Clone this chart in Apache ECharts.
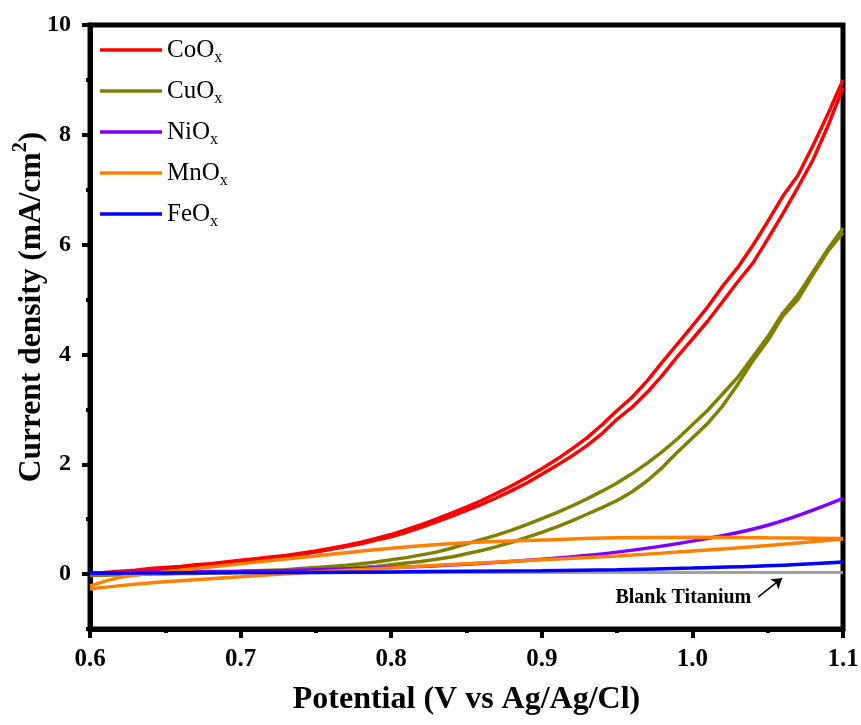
<!DOCTYPE html>
<html>
<head>
<meta charset="utf-8">
<script src="https://cdn.jsdelivr.net/npm/echarts@6/dist/echarts.min.js"></script>
<style>
  html, body { margin: 0; padding: 0; background: #ffffff; }
  #chart { width: 861px; height: 725px; }
</style>
</head>
<body>
<div id="chart"></div>
<script>
// Potential grids (V vs Ag/AgCl)
const potential = [0.60,0.61,0.62,0.63,0.64,0.65,0.66,0.67,0.68,0.69,
                   0.70,0.71,0.72,0.73,0.74,0.75,0.76,0.77,0.78,0.79,
                   0.80,0.81,0.82,0.83,0.84,0.85,0.86,0.87,0.88,0.89,
                   0.90,0.91,0.92,0.93,0.94,0.95,0.96,0.97,0.98,0.99,
                   1.00,1.01,1.02,1.03,1.04,1.05,1.06,1.07,1.08,1.09,1.10];
const potentialCoarse = [0.60,0.65,0.70,0.75,0.80,0.85,0.90,0.95,1.00,1.05,1.10];
const potentialMn = [0.60,0.62,0.65,0.70,0.75,0.80,0.85,0.90,0.95,1.00,1.05,1.10];

// Current density (mA/cm2), two sweep directions for the looped curves
const coSweepA = [0.00,0.03,0.05,0.07,0.10,0.12,0.14,0.17,0.19,0.22,
                  0.25,0.28,0.31,0.34,0.38,0.42,0.47,0.52,0.58,0.65,
                  0.72,0.81,0.90,1.00,1.11,1.22,1.34,1.47,1.61,1.76,
                  1.92,2.09,2.28,2.48,2.72,2.98,3.22,3.52,3.86,4.19,
                  4.52,4.86,5.24,5.58,5.98,6.42,6.88,7.26,7.80,8.38,9.00];
const coSweepB = [-0.03,0.00,0.03,0.05,0.08,0.10,0.13,0.15,0.18,0.21,
                  0.24,0.27,0.30,0.33,0.36,0.40,0.45,0.50,0.55,0.62,
                  0.68,0.76,0.85,0.95,1.05,1.16,1.27,1.39,1.52,1.66,
                  1.82,1.98,2.15,2.34,2.56,2.82,3.04,3.31,3.62,3.96,
                  4.28,4.60,4.96,5.32,5.66,6.10,6.56,7.04,7.54,8.16,8.86];
const cuSweepA = [0.00,0.00,0.01,0.01,0.01,0.02,0.02,0.03,0.03,0.04,
                  0.05,0.06,0.07,0.08,0.10,0.12,0.14,0.16,0.19,0.22,
                  0.26,0.30,0.35,0.40,0.47,0.55,0.63,0.71,0.80,0.90,
                  1.01,1.12,1.24,1.37,1.51,1.66,1.83,2.02,2.23,2.46,
                  2.72,2.98,3.28,3.58,3.95,4.32,4.75,5.08,5.50,5.92,6.30];
const cuSweepB = [-0.02,-0.02,-0.01,-0.01,0.00,0.00,0.01,0.01,0.02,0.02,
                  0.03,0.03,0.04,0.05,0.06,0.07,0.08,0.10,0.12,0.14,
                  0.17,0.20,0.23,0.27,0.31,0.37,0.43,0.50,0.58,0.67,
                  0.76,0.86,0.97,1.09,1.21,1.34,1.50,1.70,1.94,2.22,
                  2.48,2.74,3.06,3.45,3.88,4.25,4.70,5.00,5.45,5.88,6.22];
const niSweep = [0.02,0.04,0.05,0.08,0.12,0.18,0.27,0.40,0.60,0.89,1.38];
const mnSweepA = [-0.27,-0.21,-0.14,-0.05,0.04,0.11,0.19,0.26,0.33,0.42,0.52,0.64];
const mnSweepB = [-0.22,-0.06,0.04,0.19,0.33,0.47,0.57,0.62,0.66,0.67,0.66,0.65];
const feSweep = [0.02,0.02,0.03,0.03,0.04,0.05,0.06,0.08,0.11,0.15,0.22];
const blankSweep = [0.03,0.03,0.03,0.03,0.03,0.03,0.03,0.03,0.03,0.03,0.03];

const yMajorTicks = [0, 2, 4, 6, 8, 10];
const legendNames = ['CoOx', 'CuOx', 'NiOx', 'MnOx', 'FeOx'];

const SERIF = '"Liberation Serif", "Times New Roman", "DejaVu Serif", serif';
const pairs = (xs, ys) => xs.map((x, i) => [x, ys[i]]);

function curve(name, color, xs, ys, smooth) {
  return {
    name: name,
    type: 'line',
    data: pairs(xs, ys),
    showSymbol: false,
    symbol: 'none',
    smooth: smooth ? 0.4 : false,
    lineStyle: { color: color, width: 3.5 },
    itemStyle: { color: color },
    emphasis: { disabled: true },
    animation: false
  };
}

const blank = curve('Blank Titanium', '#a0a0a0', potentialCoarse, blankSweep, true);
blank.lineStyle.width = 3;
blank.markLine = {
  silent: true,
  symbol: ['none', 'arrow'],
  symbolSize: 10,
  animation: false,
  label: { show: false },
  lineStyle: { color: '#000', width: 1.5, type: 'solid' },
  data: [[{ coord: [1.0436, -0.42] }, { coord: [1.0595, -0.075] }]]
};
blank.markPoint = {
  silent: true,
  symbol: 'circle',
  symbolSize: 1,
  animation: false,
  itemStyle: { color: 'rgba(0,0,0,0)' },
  label: {
    show: true, position: 'inside', formatter: 'Blank Titanium',
    fontFamily: SERIF, fontWeight: 'bold', fontSize: 20, color: '#000'
  },
  data: [{ coord: [0.994, -0.44] }]
};

const series = [
  blank,
  curve('CoOx', '#ff0000', potential, coSweepA),
  curve('CoOx', '#ff0000', potential, coSweepB),
  curve('CuOx', '#808000', potential, cuSweepA),
  curve('CuOx', '#808000', potential, cuSweepB),
  curve('NiOx', '#8000ff', potentialCoarse, niSweep, true),
  curve('MnOx', '#ff8000', potentialMn, mnSweepA, true),
  curve('MnOx', '#ff8000', potentialMn, mnSweepB, true),
  curve('FeOx', '#0000ff', potentialCoarse, feSweep, true)
];

const chart = echarts.init(document.getElementById('chart'), null, { renderer: 'canvas' });

chart.setOption({
  animation: false,
  backgroundColor: '#ffffff',
  grid: {
    left: 90, right: 18, top: 25, bottom: 96,
    containLabel: false,
    outerBoundsMode: 'none',
    show: true, borderColor: '#000', borderWidth: 5, backgroundColor: 'transparent'
  },
  legend: {
    data: legendNames,
    orient: 'vertical',
    left: 95, top: 29,
    icon: 'rect',
    itemWidth: 62, itemHeight: 3.5,
    itemGap: 9,
    selectedMode: false,
    textStyle: {
      fontFamily: SERIF, color: '#000',
      rich: {
        n: { fontFamily: SERIF, fontSize: 25, lineHeight: 30, color: '#000' },
        s: { fontFamily: SERIF, fontSize: 16, lineHeight: 16, padding: [16, 0, 0, 0], color: '#000' }
      }
    },
    formatter: name => '{n|' + name.slice(0, -1) + '}{s|' + name.slice(-1) + '}'
  },
  xAxis: {
    type: 'value',
    min: 0.6, max: 1.1, interval: 0.1,
    axisLine: { show: true, onZero: false, lineStyle: { color: '#000', width: 5 } },
    axisTick: { show: true, length: 9, lineStyle: { color: '#000', width: 4 } },
    minorTick: { show: true, splitNumber: 2, length: 4, lineStyle: { color: '#000', width: 4 } },
    splitLine: { show: false },
    axisLabel: {
      formatter: v => v.toFixed(1), margin: 18,
      fontFamily: SERIF, fontWeight: 'bold', fontSize: 25, color: '#000'
    },
    name: 'Potential (V vs Ag/Ag/Cl)',
    nameLocation: 'middle', nameGap: 55,
    nameMoveOverlap: false,
    nameTextStyle: { fontFamily: SERIF, fontWeight: 'bold', fontSize: 32, color: '#000' }
  },
  yAxis: [
    {
      type: 'value',
      min: -1, max: 10,
      position: 'left',
      axisLine: { show: true, onZero: false, lineStyle: { color: '#000', width: 5 } },
      axisTick: { show: true, length: 8, customValues: yMajorTicks, lineStyle: { color: '#000', width: 4 } },
      splitLine: { show: false },
      axisLabel: {
        customValues: yMajorTicks, margin: 19,
        fontFamily: SERIF, fontWeight: 'bold', fontSize: 24, color: '#000'
      },
      name: '{a|Current density (mA/cm}{b|2}{a|)}',
      nameLocation: 'middle', nameRotate: 90, nameGap: 41,
      nameMoveOverlap: false,
      nameTextStyle: {
        padding: [0, 0, 0, 40],
        rich: {
          a: { fontFamily: SERIF, fontWeight: 'bold', fontSize: 31.5, lineHeight: 34, color: '#000' },
          b: { fontFamily: SERIF, fontWeight: 'bold', fontSize: 20, lineHeight: 20, padding: [0, 0, 22, 0], color: '#000' }
        }
      }
    },
    {
      // minor ticks at every unit
      type: 'value',
      min: -1, max: 10, interval: 1,
      position: 'left',
      axisLine: { show: false },
      axisTick: { show: true, length: 4, lineStyle: { color: '#000', width: 4 } },
      axisLabel: { show: false },
      splitLine: { show: false }
    }
  ],
  series: series
});
</script>
</body>
</html>
